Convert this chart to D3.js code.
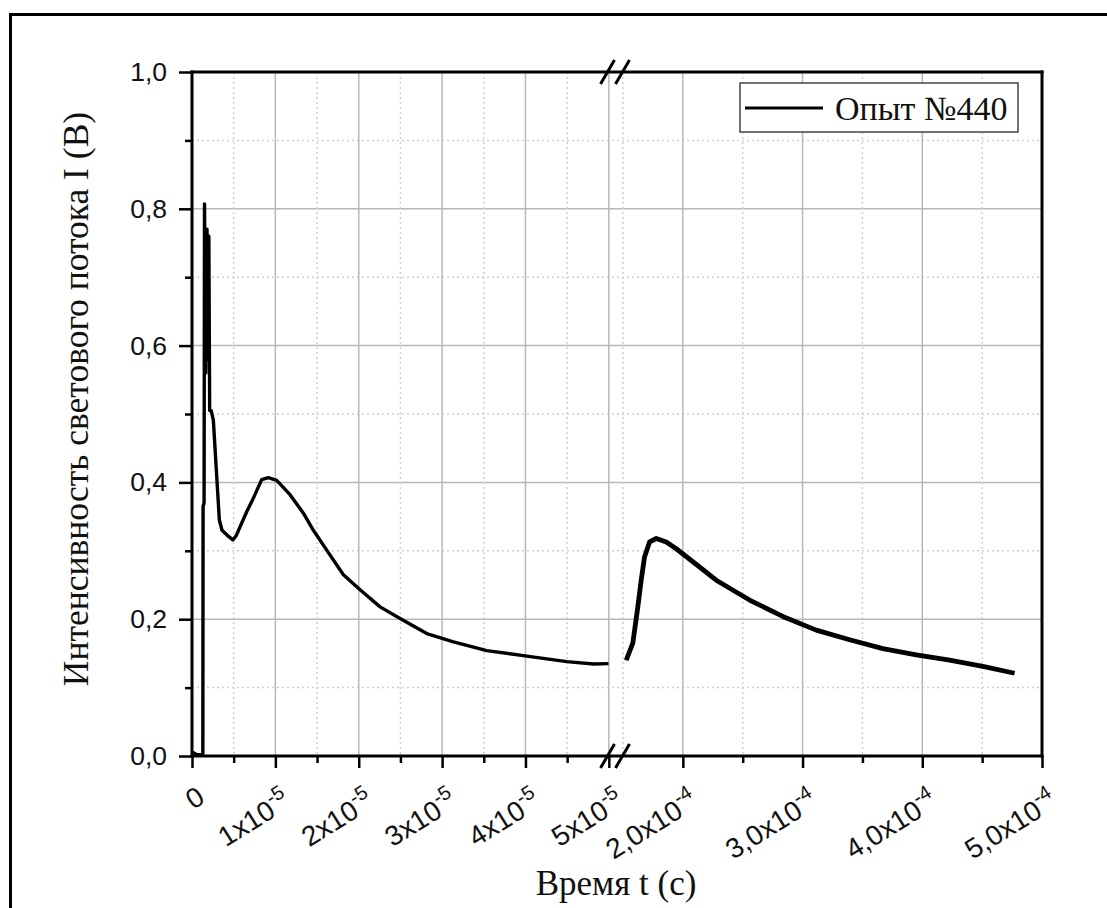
<!DOCTYPE html>
<html><head><meta charset="utf-8">
<script src="https://cdn.jsdelivr.net/npm/d3@7/dist/d3.min.js"></script>
<style>body{margin:0;background:#fff;}svg{display:block;}</style>
</head><body>
<svg id="chart" width="1107" height="908"></svg>
<script>
// ---- data (time in seconds, intensity in volts) ----
const seg1Time = [0, 0.6e-6, 1.30e-6, 1.33e-6, 1.45e-6, 1.50e-6, 1.65e-6, 1.80e-6, 1.92e-6, 2.02e-6, 2.12e-6, 2.30e-6, 2.56e-6, 3.28e-6, 3.60e-6, 4.20e-6, 4.90e-6, 5.30e-6, 5.76e-6, 6.56e-6, 7.36e-6, 8.36e-6, 9.16e-6, 10.16e-6, 11.76e-6, 13.36e-6, 14.56e-6, 16.16e-6, 18.16e-6, 20.16e-6, 22.56e-6, 24.96e-6, 28.16e-6, 31.36e-6, 35.36e-6, 40.16e-6, 44.96e-6, 48.16e-6, 49.96e-6];
const seg1Intensity = [0.006, 0.002, 0.002, 0.365, 0.37, 0.807, 0.56, 0.77, 0.58, 0.76, 0.505, 0.505, 0.491, 0.345, 0.330, 0.323, 0.316, 0.322, 0.335, 0.357, 0.377, 0.404, 0.407, 0.403, 0.382, 0.355, 0.330, 0.301, 0.265, 0.243, 0.218, 0.201, 0.179, 0.167, 0.154, 0.146, 0.138, 0.1345, 0.135];
const seg2Time = [1.527e-4, 1.582e-4, 1.624e-4, 1.652e-4, 1.68e-4, 1.722e-4, 1.778e-4, 1.861e-4, 1.945e-4, 2.084e-4, 2.279e-4, 2.557e-4, 2.835e-4, 3.114e-4, 3.393e-4, 3.671e-4, 3.95e-4, 4.228e-4, 4.506e-4, 4.771e-4];
const seg2Intensity = [0.140, 0.165, 0.218, 0.257, 0.291, 0.313, 0.318, 0.313, 0.303, 0.284, 0.257, 0.228, 0.204, 0.184, 0.170, 0.157, 0.148, 0.140, 0.131, 0.121];

const yTicks = [0, 0.2, 0.4, 0.6, 0.8, 1.0];
const yTickLabels = ["0,0", "0,2", "0,4", "0,6", "0,8", "1,0"];
const yMinorTicks = [0.1, 0.3, 0.5, 0.7, 0.9];
const x1Ticks = [0, 1e-5, 2e-5, 3e-5, 4e-5, 5e-5];
const x1TickBase = ["0", "1x10", "2x10", "3x10", "4x10", "5x10"];
const x1TickExp = ["", "-5", "-5", "-5", "-5", "-5"];
const x1MinorTicks = [0.5e-5, 1.5e-5, 2.5e-5, 3.5e-5, 4.5e-5];
const x2Ticks = [2e-4, 3e-4, 4e-4, 5e-4];
const x2TickBase = ["2,0x10", "3,0x10", "4,0x10", "5,0x10"];
const x2TickExp = ["-4", "-4", "-4", "-4"];
const x2MinorTicks = [2.5e-4, 3.5e-4, 4.5e-4];
const x2MinorGrid = [1.5e-4, 2.5e-4, 3.5e-4, 4.5e-4];
const seriesName = "Опыт №440";
const xTitle = "Время t (с)";
const yTitle = "Интенсивность светового потока I (В)";

// ---- layout ----
const L = 192, R = 1042, T = 72, B = 756;
const seg1End = 613, seg2Start = 617;
const svg = d3.select("#chart");
const sans = "'Liberation Sans', Arial, sans-serif";
const serif = "'Liberation Serif', 'Times New Roman', serif";

const y = d3.scaleLinear().domain([0, 1]).range([B, T]);
const x1 = d3.scaleLinear().domain([0, 5.05e-5]).range([L, seg1End]);
const x2 = d3.scaleLinear().domain([1.45e-4, 5e-4]).range([seg2Start, R]);

// outer frame
svg.append("rect").attr("x", 10.5).attr("y", 14.5).attr("width", 1200).attr("height", 1000)
  .attr("fill", "none").attr("stroke", "#000").attr("stroke-width", 3);

// ---- grid ----
const grid = svg.append("g");
const majorGrid = {stroke: "#b8b8b8", w: 1.5};
const minorGrid = {stroke: "#cfcfcf", w: 1.5, dash: "2,3"};
function vline(xp, st) {
  grid.append("line").attr("x1", xp).attr("x2", xp).attr("y1", T).attr("y2", B)
    .attr("stroke", st.stroke).attr("stroke-width", st.w).attr("stroke-dasharray", st.dash || null);
}
function hline(yp, st) {
  grid.append("line").attr("x1", L).attr("x2", R).attr("y1", yp).attr("y2", yp)
    .attr("stroke", st.stroke).attr("stroke-width", st.w).attr("stroke-dasharray", st.dash || null);
}
yTicks.slice(1, -1).forEach(v => hline(y(v), majorGrid));
yMinorTicks.forEach(v => hline(y(v), minorGrid));
x1Ticks.slice(1).forEach(v => vline(x1(v), majorGrid));
x1MinorTicks.forEach(v => vline(x1(v), minorGrid));
x2Ticks.slice(0, -1).forEach(v => vline(x2(v), majorGrid));
x2MinorGrid.forEach(v => vline(x2(v), minorGrid));

// ---- data lines ----
const line1 = d3.line().x(d => x1(d[0])).y(d => y(d[1]));
const line2 = d3.line().x(d => x2(d[0])).y(d => y(d[1]));
svg.append("path").datum(seg1Time.map((t, i) => [t, seg1Intensity[i]]))
  .attr("d", line1).attr("fill", "none").attr("stroke", "#000").attr("stroke-width", 3.4)
  .attr("stroke-linejoin", "round");
svg.append("path").datum(seg2Time.map((t, i) => [t, seg2Intensity[i]]))
  .attr("d", line2).attr("fill", "none").attr("stroke", "#000").attr("stroke-width", 4.8)
  .attr("stroke-linejoin", "round");

// ---- axes ----
const axW = 3;
const yAxis = svg.append("g").attr("transform", `translate(${L},0)`)
  .call(d3.axisLeft(y).tickValues(yTicks).tickSize(13).tickFormat((d, i) => yTickLabels[i]).tickPadding(12));
const yMinor = svg.append("g").attr("transform", `translate(${L},0)`)
  .call(d3.axisLeft(y).tickValues(yMinorTicks).tickSize(7).tickFormat(""));
const xAxis1 = svg.append("g").attr("transform", `translate(0,${B})`)
  .call(d3.axisBottom(x1).tickValues(x1Ticks).tickSize(12).tickFormat(""));
const xMinor1 = svg.append("g").attr("transform", `translate(0,${B})`)
  .call(d3.axisBottom(x1).tickValues(x1MinorTicks).tickSize(7).tickFormat(""));
const xAxis2 = svg.append("g").attr("transform", `translate(0,${B})`)
  .call(d3.axisBottom(x2).tickValues(x2Ticks).tickSize(12).tickFormat(""));
const xMinor2 = svg.append("g").attr("transform", `translate(0,${B})`)
  .call(d3.axisBottom(x2).tickValues(x2MinorTicks).tickSize(7).tickFormat(""));
[yAxis, yMinor, xAxis1, xMinor1, xAxis2, xMinor2].forEach(g => {
  g.select(".domain").remove();
  g.selectAll(".tick line").attr("stroke", "#000").attr("stroke-width", 2.5);
});
yAxis.selectAll(".tick text").attr("font-family", sans).attr("font-size", 26.5).attr("fill", "#111");

// rotated x tick labels
function xLabels(scale, ticks, base, exp) {
  const g = svg.append("g");
  ticks.forEach((v, i) => {
    const t = g.append("text")
      .attr("transform", `translate(${scale(v) + 17},${B + 50}) rotate(-32)`)
      .attr("text-anchor", "end").attr("font-family", sans).attr("font-size", 28).attr("fill", "#111");
    const b = t.append("tspan").text(base[i]);
    if (exp[i]) t.append("tspan").attr("font-size", 20).attr("dy", -12).text(exp[i]);
    else b.attr("dy", -5);
  });
}
xLabels(x1, x1Ticks, x1TickBase, x1TickExp);
xLabels(x2, x2Ticks, x2TickBase, x2TickExp);

// axis frame lines
const frame = svg.append("g").attr("stroke", "#000").attr("stroke-width", axW).attr("stroke-linecap", "square");
frame.append("line").attr("x1", L).attr("x2", R).attr("y1", B).attr("y2", B);
frame.append("line").attr("x1", L).attr("x2", R).attr("y1", T).attr("y2", T);
frame.append("line").attr("x1", L).attr("x2", L).attr("y1", T).attr("y2", B);
frame.append("line").attr("x1", R).attr("x2", R).attr("y1", T).attr("y2", B);

// break marks
const brkX = (seg1End + seg2Start) / 2;
[T, B].forEach(yy => {
  [-7.5, 7.5].forEach(off => {
    svg.append("line").attr("x1", brkX + off - 7).attr("y1", yy + 12)
      .attr("x2", brkX + off + 7).attr("y2", yy - 12)
      .attr("stroke", "#000").attr("stroke-width", 3);
  });
});

// axis titles
svg.append("text").attr("x", 616).attr("y", 895).attr("text-anchor", "middle")
  .attr("font-family", serif).attr("font-size", 35).attr("fill", "#111").text(xTitle);
svg.append("text").attr("transform", "translate(88,399) rotate(-90)").attr("text-anchor", "middle")
  .attr("font-family", serif).attr("font-size", 35.5).attr("fill", "#111").text(yTitle);

// legend
const lg = svg.append("g");
lg.append("rect").attr("x", 740).attr("y", 83).attr("width", 278).attr("height", 49)
  .attr("fill", "#fff").attr("stroke", "#444").attr("stroke-width", 1.5);
lg.append("line").attr("x1", 745).attr("x2", 823).attr("y1", 108).attr("y2", 108)
  .attr("stroke", "#000").attr("stroke-width", 3);
lg.append("text").attr("x", 835).attr("y", 120).attr("font-family", serif).attr("font-size", 34)
  .attr("fill", "#111").text(seriesName);
</script>
</body></html>
